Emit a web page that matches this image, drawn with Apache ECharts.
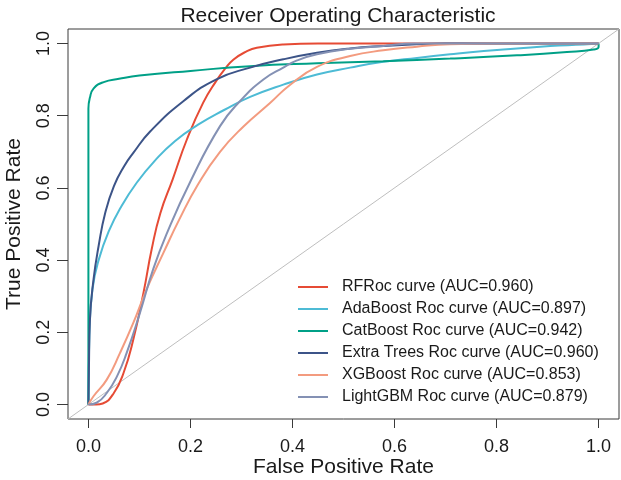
<!DOCTYPE html>
<html>
<head>
<meta charset="utf-8">
<script src="https://cdn.jsdelivr.net/npm/echarts@6/dist/echarts.min.js"></script>
<style>
  html, body { margin: 0; padding: 0; background: #fff; }
  #chart { width: 621px; height: 480px; }
</style>
</head>
<body>
<div id="chart"></div>
<script>
// ROC 曲线数据 [FPR, TPR]
const rfPoints = [[0,0],[0.015,0],[0.028,0.003],[0.049,0.03],[0.069,0.088],[0.088,0.18],[0.108,0.31],[0.124,0.43],[0.141,0.53],[0.165,0.623],[0.193,0.734],[0.225,0.836],[0.25,0.895],[0.268,0.93],[0.284,0.955],[0.31,0.978],[0.33,0.988],[0.382,0.997],[0.45,1],[1,1]];
const adaPoints = [[0,0],[0.002,0.2],[0.008,0.32],[0.02,0.4],[0.04,0.48],[0.065,0.55],[0.095,0.615],[0.13,0.675],[0.17,0.73],[0.215,0.775],[0.265,0.815],[0.317,0.852],[0.382,0.886],[0.448,0.914],[0.513,0.933],[0.578,0.949],[0.644,0.96],[0.709,0.97],[0.775,0.979],[0.84,0.986],[0.905,0.993],[0.971,0.997],[1,1]];
const catPoints = [[0,0],[0,0.82],[0.003,0.85],[0.01,0.875],[0.03,0.893],[0.06,0.902],[0.1,0.911],[0.2,0.924],[0.317,0.937],[0.448,0.945],[0.578,0.951],[0.709,0.958],[0.84,0.967],[0.938,0.976],[0.99,0.983],[1,0.99],[1,1]];
const etPoints = [[0,0],[0.001,0.1],[0.003,0.235],[0.01,0.346],[0.02,0.439],[0.033,0.531],[0.05,0.605],[0.07,0.66],[0.088,0.697],[0.121,0.756],[0.186,0.84],[0.25,0.9],[0.317,0.933],[0.382,0.956],[0.448,0.974],[0.513,0.986],[0.578,0.993],[0.643,0.998],[0.7,1],[1,1]];
const xgbPoints = [[0,0],[0.01,0.023],[0.036,0.069],[0.062,0.143],[0.088,0.226],[0.114,0.319],[0.147,0.42],[0.178,0.512],[0.215,0.61],[0.258,0.7],[0.304,0.77],[0.356,0.835],[0.395,0.885],[0.448,0.935],[0.513,0.965],[0.578,0.981],[0.644,0.991],[0.709,0.998],[0.8,1],[1,1]];
const lgbmPoints = [[0,0],[0.016,0.005],[0.036,0.032],[0.056,0.078],[0.075,0.143],[0.101,0.254],[0.127,0.375],[0.154,0.475],[0.199,0.615],[0.258,0.771],[0.297,0.84],[0.343,0.9],[0.382,0.933],[0.409,0.953],[0.448,0.97],[0.513,0.985],[0.578,0.993],[0.64,1],[1,1]];
const diagPoints = [[-0.04,-0.04],[1.04,1.04]];

const modelNames = [
    'RFRoc curve (AUC=0.960)',
    'AdaBoost Roc curve (AUC=0.897)',
    'CatBoost Roc curve (AUC=0.942)',
    'Extra Trees Roc curve (AUC=0.960)',
    'XGBoost Roc curve (AUC=0.853)',
    'LightGBM Roc curve (AUC=0.879)'
];
const modelColors = ['#E64B35', '#4DBBD5', '#00A087', '#3C5488', '#F39B7F', '#8491B4'];
const modelData = [rfPoints, adaPoints, catPoints, etPoints, xgbPoints, lgbmPoints];

const FONT = '"Liberation Sans", Arial, sans-serif';
const INK = '#1a1a1a';
const LINE = '#3a3a3a';
const chart = echarts.init(document.getElementById('chart'));

// 绘图框 (R 默认 4% 扩展)
const box = { left: 68, right: 2, top: 29, bottom: 61 };
const pad = 0.04;
const pxX = (621 - box.left - box.right) / (1 + 2 * pad);
const pxY = (480 - box.top - box.bottom) / (1 + 2 * pad);
// 数据区向左/向下多留一点, 让外侧刻度落在其中
const extraL = 14, extraB = 12;

const series = modelNames.map((name, i) => ({
    name: name,
    type: 'line',
    data: modelData[i],
    symbol: 'none',
    smooth: 0.5,
    lineStyle: { color: modelColors[i], width: 2 },
    itemStyle: { color: modelColors[i] },
    z: 3
}));

// 对角参考线
series.unshift({
    name: 'diag',
    type: 'line',
    data: diagPoints,
    symbol: 'none',
    silent: true,
    lineStyle: { color: '#bebebe', width: 1 },
    z: 2
});

const labelStyle = { fontFamily: FONT, fontSize: 18, color: INK, formatter: v => v.toFixed(1) };

// 只占位、不显示的辅助轴
const hiddenAxis = (gridIndex) => ({
    type: 'value', gridIndex: gridIndex, min: 0, max: 1,
    axisLine: { show: false }, axisTick: { show: false },
    axisLabel: { show: false }, splitLine: { show: false }
});

const option = {
    animation: false,
    backgroundColor: '#fff',
    title: {
        text: 'Receiver Operating Characteristic',
        left: 333,
        top: 1,
        textAlign: 'center',
        textStyle: { fontFamily: FONT, fontSize: 21, fontWeight: 'normal', color: INK }
    },
    grid: [
        {
            // 数据区 (不显示边框)
            left: box.left - extraL, right: box.right, top: box.top, bottom: box.bottom - extraB,
            containLabel: false, outerBoundsMode: 'none', show: false
        },
        {
            // x 刻度: 0..1 横向, 底边与绘图框对齐
            left: box.left + pad * pxX, right: box.right + pad * pxX,
            top: box.top, bottom: box.bottom,
            containLabel: false, outerBoundsMode: 'none', show: false
        },
        {
            // y 刻度: 0..1 纵向, 左边与绘图框对齐
            left: box.left, right: box.right,
            top: box.top + pad * pxY, bottom: box.bottom + pad * pxY,
            containLabel: false, outerBoundsMode: 'none', show: false
        },
        {
            // 绘图框
            left: box.left, right: box.right, top: box.top, bottom: box.bottom,
            containLabel: false, outerBoundsMode: 'none',
            show: true, borderColor: LINE, borderWidth: 1, backgroundColor: 'transparent'
        }
    ],
    legend: {
        data: modelNames,
        orient: 'vertical',
        left: 298,
        top: 276,
        padding: 0,
        icon: 'rect',
        itemWidth: 30,
        itemHeight: 2,
        itemGap: 0,
        textStyle: { fontFamily: FONT, fontSize: 16, lineHeight: 22, color: INK, padding: [0, 0, 0, 9] }
    },
    xAxis: [
        {
            type: 'value', gridIndex: 0,
            min: -pad - extraL / pxX, max: 1 + pad,
            axisLine: { show: false, onZero: false },
            axisTick: { show: false },
            axisLabel: { show: false },
            splitLine: { show: false }
        },
        {
            type: 'value', gridIndex: 1,
            min: 0, max: 1, interval: 0.2,
            position: 'bottom',
            axisLine: { show: false },
            axisTick: { show: true, length: 9, lineStyle: { color: LINE, width: 1 } },
            axisLabel: Object.assign({ margin: 19 }, labelStyle),
            splitLine: { show: false }
        },
        hiddenAxis(2),
        {
            type: 'value', gridIndex: 3,
            min: -pad, max: 1 + pad,
            name: 'False Positive Rate',
            nameLocation: 'middle',
            nameGap: 38,
            nameTextStyle: { fontFamily: FONT, fontSize: 21, color: INK },
            axisLine: { show: false, onZero: false },
            axisTick: { show: false },
            axisLabel: { show: false },
            splitLine: { show: false }
        }
    ],
    yAxis: [
        {
            type: 'value', gridIndex: 0,
            min: -pad - extraB / pxY, max: 1 + pad,
            axisLine: { show: false, onZero: false },
            axisTick: { show: false },
            axisLabel: { show: false },
            splitLine: { show: false }
        },
        hiddenAxis(1),
        {
            type: 'value', gridIndex: 2,
            min: 0, max: 1, interval: 0.2,
            position: 'left',
            axisLine: { show: false },
            axisTick: { show: true, length: 11, lineStyle: { color: LINE, width: 1 } },
            axisLabel: Object.assign({ margin: 15, rotate: 90 }, labelStyle),
            splitLine: { show: false }
        },
        {
            type: 'value', gridIndex: 3,
            min: -pad, max: 1 + pad,
            name: 'True Positive Rate',
            nameLocation: 'middle',
            nameGap: 43,
            nameRotate: 90,
            nameTextStyle: { fontFamily: FONT, fontSize: 21, color: INK },
            axisLine: { show: false, onZero: false },
            axisTick: { show: false },
            axisLabel: { show: false },
            splitLine: { show: false }
        }
    ],
    series: series
};

chart.setOption(option);
</script>
</body>
</html>
